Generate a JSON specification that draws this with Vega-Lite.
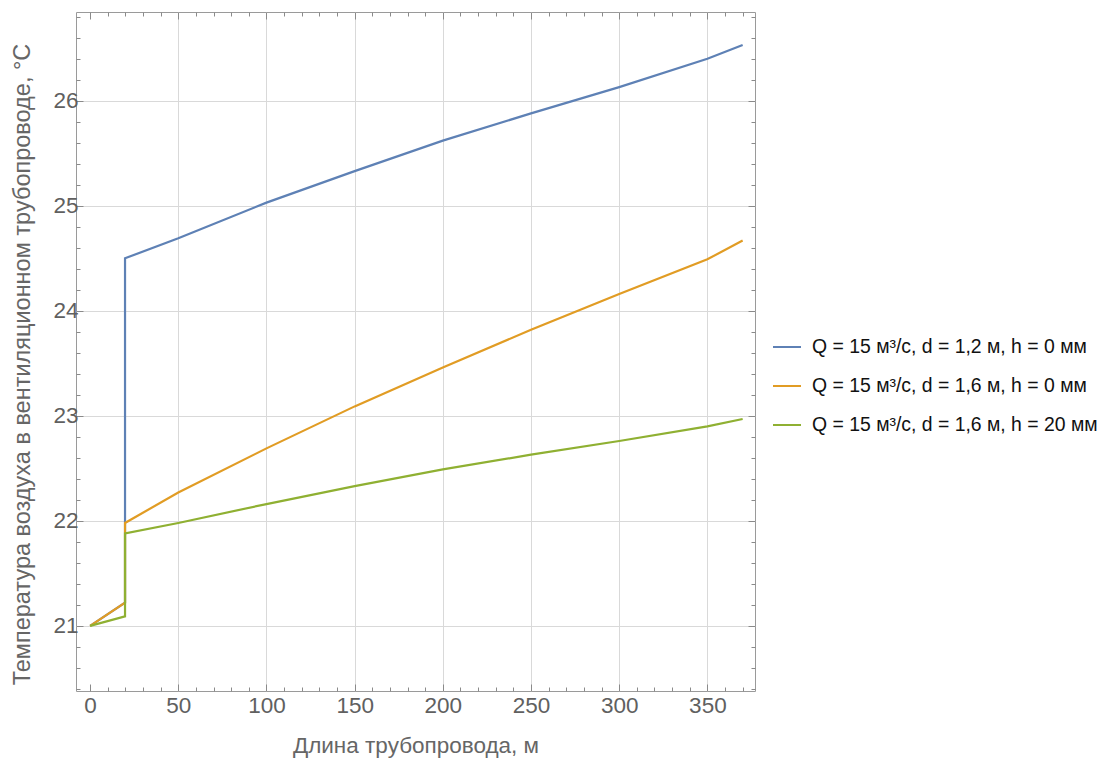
{
  "$schema": "https://vega.github.io/schema/vega-lite/v6.json",
  "width": 679,
  "height": 679,
  "autosize": {"type": "none"},
  "padding": {"left": 76, "top": 12, "right": 352, "bottom": 67},
  "background": "white",
  "config": {
    "view": {"stroke": "#9a9a9a", "strokeWidth": 1},
    "axis": {
      "domain": false,
      "tickColor": "#8a8a8a",
      "labelColor": "#606060",
      "titleColor": "#666666",
      "labelFont": "Liberation Sans",
      "titleFont": "Liberation Sans",
      "labelFontSize": 22.5,
      "titleFontWeight": "normal",
      "gridColor": "#d9d9d9",
      "gridWidth": 1
    }
  },
  "data": {
    "values": [
      {"s": "Q = 15 м³/с, d = 1,2 м, h = 0 мм", "i": 0, "x": 0, "y": 21},
      {"s": "Q = 15 м³/с, d = 1,2 м, h = 0 мм", "i": 1, "x": 19.8, "y": 21.22},
      {"s": "Q = 15 м³/с, d = 1,2 м, h = 0 мм", "i": 2, "x": 19.8, "y": 24.5},
      {"s": "Q = 15 м³/с, d = 1,2 м, h = 0 мм", "i": 3, "x": 50, "y": 24.69},
      {"s": "Q = 15 м³/с, d = 1,2 м, h = 0 мм", "i": 4, "x": 100, "y": 25.03},
      {"s": "Q = 15 м³/с, d = 1,2 м, h = 0 мм", "i": 5, "x": 150, "y": 25.33},
      {"s": "Q = 15 м³/с, d = 1,2 м, h = 0 мм", "i": 6, "x": 200, "y": 25.62},
      {"s": "Q = 15 м³/с, d = 1,2 м, h = 0 мм", "i": 7, "x": 250, "y": 25.88},
      {"s": "Q = 15 м³/с, d = 1,2 м, h = 0 мм", "i": 8, "x": 300, "y": 26.13},
      {"s": "Q = 15 м³/с, d = 1,2 м, h = 0 мм", "i": 9, "x": 350, "y": 26.4},
      {"s": "Q = 15 м³/с, d = 1,2 м, h = 0 мм", "i": 10, "x": 370, "y": 26.53},
      {"s": "Q = 15 м³/с, d = 1,6 м, h = 0 мм", "i": 0, "x": 0, "y": 21},
      {"s": "Q = 15 м³/с, d = 1,6 м, h = 0 мм", "i": 1, "x": 19.8, "y": 21.22},
      {"s": "Q = 15 м³/с, d = 1,6 м, h = 0 мм", "i": 2, "x": 19.8, "y": 21.98},
      {"s": "Q = 15 м³/с, d = 1,6 м, h = 0 мм", "i": 3, "x": 50, "y": 22.27},
      {"s": "Q = 15 м³/с, d = 1,6 м, h = 0 мм", "i": 4, "x": 100, "y": 22.69},
      {"s": "Q = 15 м³/с, d = 1,6 м, h = 0 мм", "i": 5, "x": 150, "y": 23.09},
      {"s": "Q = 15 м³/с, d = 1,6 м, h = 0 мм", "i": 6, "x": 200, "y": 23.46},
      {"s": "Q = 15 м³/с, d = 1,6 м, h = 0 мм", "i": 7, "x": 250, "y": 23.82},
      {"s": "Q = 15 м³/с, d = 1,6 м, h = 0 мм", "i": 8, "x": 300, "y": 24.16},
      {"s": "Q = 15 м³/с, d = 1,6 м, h = 0 мм", "i": 9, "x": 350, "y": 24.49},
      {"s": "Q = 15 м³/с, d = 1,6 м, h = 0 мм", "i": 10, "x": 370, "y": 24.67},
      {"s": "Q = 15 м³/с, d = 1,6 м, h = 20 мм", "i": 0, "x": 0, "y": 21},
      {"s": "Q = 15 м³/с, d = 1,6 м, h = 20 мм", "i": 1, "x": 19.8, "y": 21.09},
      {"s": "Q = 15 м³/с, d = 1,6 м, h = 20 мм", "i": 2, "x": 19.8, "y": 21.88},
      {"s": "Q = 15 м³/с, d = 1,6 м, h = 20 мм", "i": 3, "x": 50, "y": 21.98},
      {"s": "Q = 15 м³/с, d = 1,6 м, h = 20 мм", "i": 4, "x": 100, "y": 22.16},
      {"s": "Q = 15 м³/с, d = 1,6 м, h = 20 мм", "i": 5, "x": 150, "y": 22.33},
      {"s": "Q = 15 м³/с, d = 1,6 м, h = 20 мм", "i": 6, "x": 200, "y": 22.49},
      {"s": "Q = 15 м³/с, d = 1,6 м, h = 20 мм", "i": 7, "x": 250, "y": 22.63},
      {"s": "Q = 15 м³/с, d = 1,6 м, h = 20 мм", "i": 8, "x": 300, "y": 22.76},
      {"s": "Q = 15 м³/с, d = 1,6 м, h = 20 мм", "i": 9, "x": 350, "y": 22.9},
      {"s": "Q = 15 м³/с, d = 1,6 м, h = 20 мм", "i": 10, "x": 370, "y": 22.97}
    ]
  },
  "layer": [
    {
      "mark": {"type": "line", "strokeWidth": 2.2, "clip": true},
      "encoding": {
        "x": {
          "field": "x", "type": "quantitative",
          "scale": {"domain": [-8, 377], "nice": false, "zero": false},
          "title": "Длина трубопровода, м",
          "axis": {
            "orient": "bottom",
            "values": [0,10,20,30,40,50,60,70,80,90,100,110,120,130,140,150,160,170,180,190,200,210,220,230,240,250,260,270,280,290,300,310,320,330,340,350,360,370],
            "labelExpr": "datum.value % 50 === 0 ? datum.label : ''",
            "tickSize": {"condition": {"test": "datum.value % 50 === 0", "value": -7}, "value": -4},
            "grid": true,
            "gridOpacity": {"condition": {"test": "datum.value % 50 === 0 && datum.value > 0", "value": 1}, "value": 0},
            "labelPadding": 10,
            "titlePadding": 18,
            "titleFontSize": 22.5,
            "labelFlush": false
          }
        },
        "y": {
          "field": "y", "type": "quantitative",
          "scale": {"domain": [20.38, 26.845], "nice": false, "zero": false},
          "title": "Температура воздуха в вентиляционном трубопроводе, °C",
          "axis": {
            "orient": "left",
            "values": [20.4,20.6,20.8,21,21.2,21.4,21.6,21.8,22,22.2,22.4,22.6,22.8,23,23.2,23.4,23.6,23.8,24,24.2,24.4,24.6,24.8,25,25.2,25.4,25.6,25.8,26,26.2,26.4,26.6,26.8],
            "labelExpr": "abs(datum.value - round(datum.value)) < 0.001 ? format(datum.value, 'd') : ''",
            "tickSize": {"condition": {"test": "abs(datum.value - round(datum.value)) < 0.001", "value": -7}, "value": -4},
            "grid": true,
            "gridOpacity": {"condition": {"test": "abs(datum.value - round(datum.value)) < 0.001", "value": 1}, "value": 0},
            "labelPadding": 5,
            "titlePadding": 18,
            "titleFontSize": 23.5,
            "titleY": 352,
            "labelFlush": false
          }
        },
        "color": {
          "field": "s", "type": "nominal",
          "scale": {"range": ["#5e81b5", "#e19c24", "#8fb032"]},
          "legend": {
            "title": null,
            "orient": "none",
            "legendX": 696,
            "legendY": 320,
            "symbolType": "stroke",
            "symbolSize": 784,
            "symbolStrokeWidth": 2,
            "labelFontSize": 19.4,
            "labelFont": "Liberation Sans",
            "labelColor": "#111111",
            "labelOffset": 10,
            "rowPadding": 14,
            "labelLimit": 400
          }
        },
        "order": {"field": "i", "type": "quantitative"}
      }
    },
    {
      "mark": {"type": "line", "opacity": 0},
      "encoding": {
        "x": {
          "field": "x", "type": "quantitative",
          "axis": {
            "orient": "top",
            "title": null,
            "values": [0,10,20,30,40,50,60,70,80,90,100,110,120,130,140,150,160,170,180,190,200,210,220,230,240,250,260,270,280,290,300,310,320,330,340,350,360,370],
            "labels": false,
            "grid": false,
            "tickSize": {"condition": {"test": "datum.value % 50 === 0", "value": -7}, "value": -4}
          }
        },
        "y": {
          "field": "y", "type": "quantitative",
          "axis": {
            "orient": "right",
            "title": null,
            "values": [20.4,20.6,20.8,21,21.2,21.4,21.6,21.8,22,22.2,22.4,22.6,22.8,23,23.2,23.4,23.6,23.8,24,24.2,24.4,24.6,24.8,25,25.2,25.4,25.6,25.8,26,26.2,26.4,26.6,26.8],
            "labels": false,
            "grid": false,
            "tickSize": {"condition": {"test": "abs(datum.value - round(datum.value)) < 0.001", "value": -7}, "value": -4}
          }
        },
        "detail": {"field": "s"},
        "order": {"field": "i", "type": "quantitative"}
      }
    }
  ],
  "resolve": {"axis": {"x": "independent", "y": "independent"}}
}
